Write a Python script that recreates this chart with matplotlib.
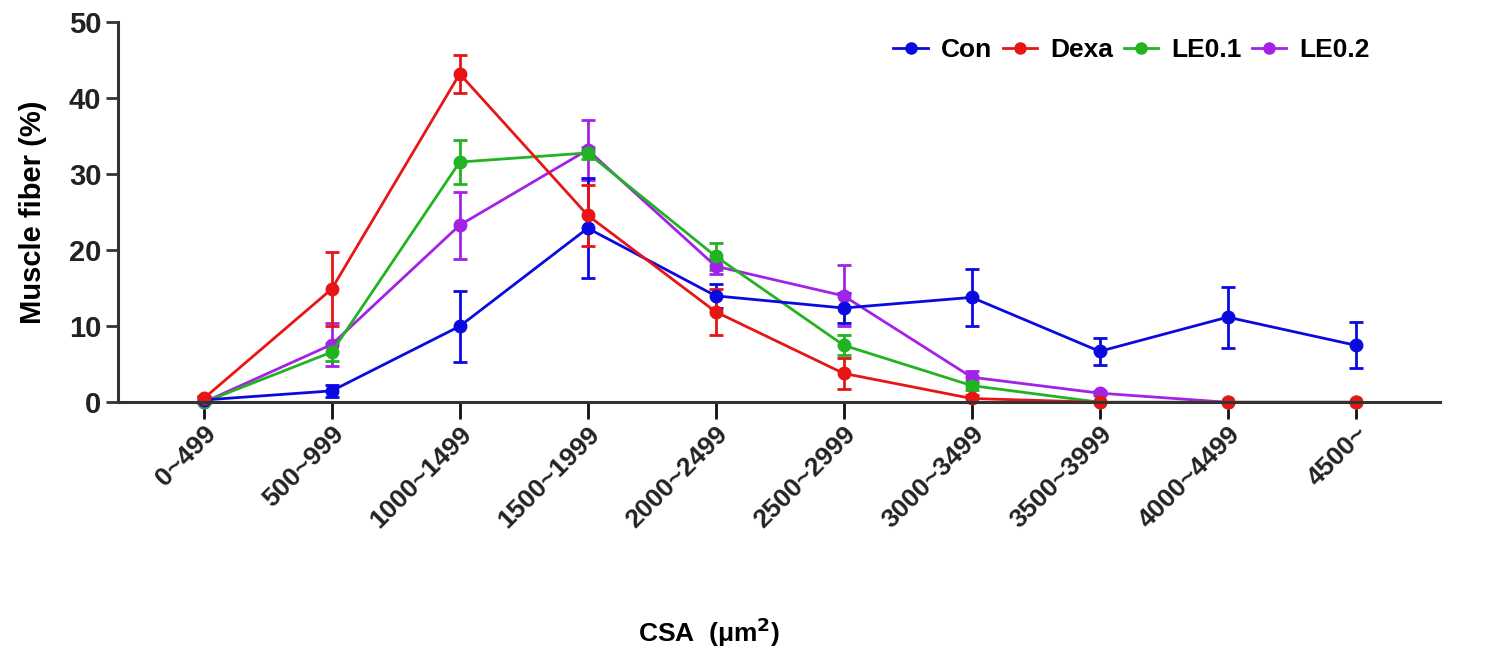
import matplotlib.pyplot as plt
from matplotlib.lines import Line2D
import numpy as np

plt.rcParams['font.family'] = ['Liberation Sans', 'DejaVu Sans']
plt.rcParams['font.weight'] = 'bold'

bins = ["0~499", "500~999", "1000~1499", "1500~1999", "2000~2499",
        "2500~2999", "3000~3499", "3500~3999", "4000~4499", "4500~"]

con = [0.3, 1.5, 10.0, 22.9, 14.0, 12.4, 13.8, 6.7, 11.2, 7.5]
con_err = [0.4, 0.8, 4.7, 6.6, 1.6, 2.0, 3.7, 1.8, 4.0, 3.0]
dexa = [0.5, 14.9, 43.2, 24.6, 11.9, 3.8, 0.5, 0.0, 0.0, 0.0]
dexa_err = [0.3, 4.9, 2.5, 4.0, 3.0, 2.0, 0.4, 0.0, 0.0, 0.0]
le01 = [0.0, 6.6, 31.6, 32.8, 19.2, 7.5, 2.2, 0.0, 0.0, 0.0]
le01_err = [0.0, 1.2, 2.9, 0.8, 1.8, 1.3, 0.6, 0.0, 0.0, 0.0]
le02 = [0.0, 7.6, 23.3, 33.2, 17.9, 14.0, 3.3, 1.2, 0.0, 0.0]
le02_err = [0.0, 2.8, 4.4, 3.9, 1.0, 4.0, 0.8, 0.3, 0.0, 0.0]

series = [
    ("LE0.2", le02, le02_err, "#a222e6"),
    ("LE0.1", le01, le01_err, "#22b322"),
    ("Con", con, con_err, "#0a0ae0"),
    ("Dexa", dexa, dexa_err, "#e81515"),
]

fig = plt.figure(figsize=(14.99, 6.52), dpi=100)
ax = fig.add_axes([0.0787, 0.383, 0.882, 0.583])

x = np.arange(len(bins))
colors = {}
for name, vals, errs, col in series:
    ax.errorbar(x, vals, yerr=errs, color=col, lw=2.0, marker='o',
                markersize=9, capsize=5, capthick=2.0, elinewidth=2.0,
                clip_on=False)
    colors[name] = col

ax.set_xlim(-0.67, 9.66)
ax.set_ylim(0, 50)
ax.set_yticks([0, 10, 20, 30, 40, 50])
ax.set_xticks(x)
ax.set_xticklabels(bins, rotation=45, ha='right', rotation_mode='anchor',
                   fontsize=19, fontweight='bold')
for lab in ax.get_yticklabels():
    lab.set_fontsize(21)
    lab.set_fontweight('bold')

ax.spines['top'].set_visible(False)
ax.spines['right'].set_visible(False)
ax.spines['left'].set_linewidth(2.2)
ax.spines['bottom'].set_linewidth(2.2)
ax.spines['left'].set_color('#333333')
ax.spines['bottom'].set_color('#333333')
ax.tick_params(axis='y', direction='out', length=9, width=2, colors='#333333',
               labelcolor='#222222', pad=3)
ax.tick_params(axis='x', direction='out', length=12, width=2, colors='#111111',
               labelcolor='#222222', pad=2)

ax.set_ylabel("Muscle fiber (%)", fontsize=21, fontweight='bold', labelpad=16)
fig.text(709 / 1499, 1 - 632 / 652, "CSA  (\u03bcm$^{\\mathbf{2}}$)", fontsize=19,
         fontweight='bold', ha='center', va='center')

order = ["Con", "Dexa", "LE0.1", "LE0.2"]
proxies = [Line2D([], [], color=colors[n], lw=2.0, marker='o', markersize=8)
           for n in order]
leg = ax.legend(proxies, order, loc='upper right', ncol=4, frameon=False,
                fontsize=19, handlelength=1.3, handletextpad=0.5,
                columnspacing=0.4, bbox_to_anchor=(0.955, 0.985),
                borderaxespad=0)
for t in leg.get_texts():
    t.set_fontweight('bold')

fig.savefig("out.png", dpi=100)
